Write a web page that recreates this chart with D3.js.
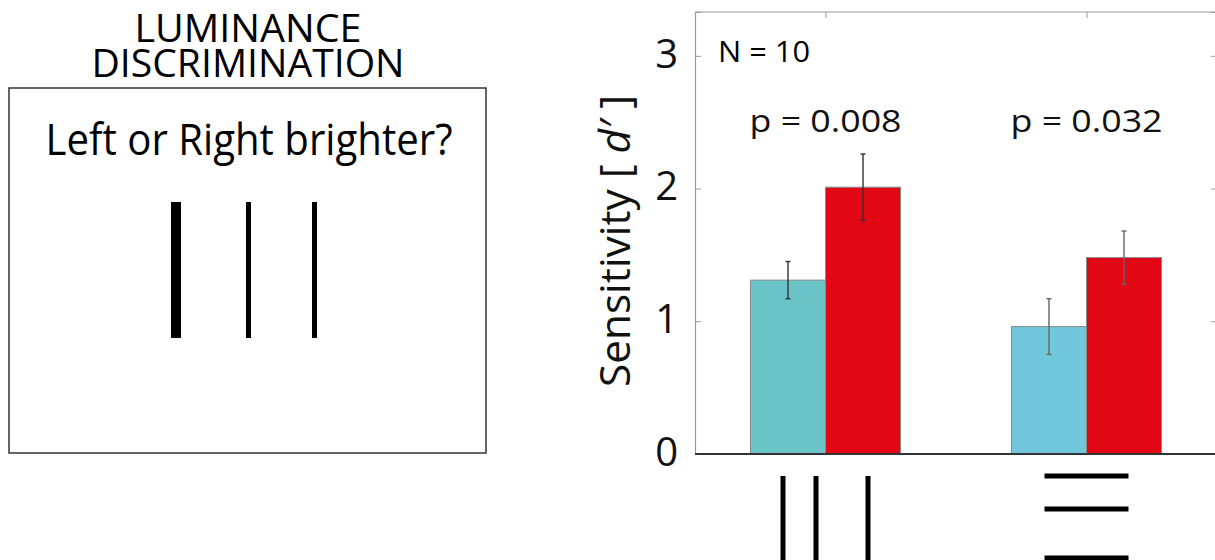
<!DOCTYPE html>
<html lang="en">
<head>
    <meta charset="UTF-8">
    <title>Luminance discrimination</title>
    <script src="https://d3js.org/d3.v7.min.js"></script>
    <style>
        body { margin: 0; background: #fff; }
        svg { display: block; font-family: "Open Sans", "Noto Sans", sans-serif; }
    </style>
</head>
<body>
<svg id="chart" width="1215" height="560"></svg>

<script type="text/javascript">

// data
var categories = ["vertical", "horizontal"];
var cyanValues = [1.31, 0.96];
var redValues  = [2.01, 1.48];
var cyanErr    = [0.14, 0.21];
var redErr     = [0.25, 0.20];
var pLabels    = ["p = 0.008", "p = 0.032"];
var yTicks     = [0, 1, 2, 3];
var cyanColors = ["#6bc4c7", "#70c7db"];
var redColor   = "#e20714";

var svg = d3.select("#chart");

// ---- left panel: task illustration
svg.append("text")
    .attr("x", 248).attr("y", 42)
    .attr("text-anchor", "middle")
    .attr("font-size", 39)
    .attr("textLength", 227).attr("lengthAdjust", "spacingAndGlyphs")
    .text("LUMINANCE");
svg.append("text")
    .attr("x", 248).attr("y", 77)
    .attr("text-anchor", "middle")
    .attr("font-size", 39)
    .attr("textLength", 313).attr("lengthAdjust", "spacingAndGlyphs")
    .text("DISCRIMINATION");

svg.append("rect")
    .attr("x", 9).attr("y", 88)
    .attr("width", 477).attr("height", 365)
    .attr("fill", "none")
    .attr("stroke", "#333")
    .attr("stroke-width", 1.5);

svg.append("text")
    .attr("x", 249).attr("y", 155)
    .attr("text-anchor", "middle")
    .attr("font-size", 44)
    .attr("textLength", 407).attr("lengthAdjust", "spacingAndGlyphs")
    .text("Left or Right brighter?");

var stimX = [176, 248.5, 314.5], stimW = [10, 5, 5];
svg.selectAll(".stim")
    .data(stimX)
    .enter()
    .append("rect")
    .attr("class", "stim")
    .attr("x", function(d, i) { return d - stimW[i] / 2; })
    .attr("y", 202)
    .attr("width", function(d, i) { return stimW[i]; })
    .attr("height", 136)
    .attr("fill", "#000");

// ---- right panel: bar chart
var axL = 695, axR = 1217, axT = 12, axB = 454;

var x = d3.scalePoint()
    .domain(categories)
    .range([axL, axR])
    .padding(0.5);
var step = x.step();
var barW = step * 0.2875;

var y = d3.scaleLinear()
    .domain([0, 3.33])
    .range([axB, axT]);

// top spine (grey), right one sits just off the page
svg.append("line")
    .attr("x1", axL).attr("x2", axR)
    .attr("y1", axT).attr("y2", axT)
    .attr("stroke", "#999").attr("stroke-width", 1.2);

var yAxis = svg.append("g")
    .attr("transform", "translate(" + axL + ",0)")
    .call(d3.axisLeft(y).tickValues(yTicks).tickSize(-6).tickPadding(17).tickFormat(d3.format("d")));
yAxis.select(".domain").attr("stroke", "#999").attr("stroke-width", 1.2);
yAxis.selectAll(".tick line").attr("stroke", "#999");
yAxis.selectAll(".tick text")
    .attr("font-size", 40)
    .attr("font-family", "Open Sans")
    .attr("fill", "#111")
    .attr("dy", "0.28em");

var yAxisR = svg.append("g")
    .attr("transform", "translate(" + axR + ",0)")
    .call(d3.axisRight(y).tickValues(yTicks).tickSize(-6).tickFormat(""));
yAxisR.select(".domain").attr("stroke", "#999");
yAxisR.selectAll(".tick line").attr("stroke", "#999");

var xTop = svg.append("g")
    .attr("transform", "translate(0," + axT + ")")
    .call(d3.axisTop(x).tickSize(-6).tickFormat(""));
xTop.select(".domain").remove();
xTop.selectAll(".tick line").attr("stroke", "#999");

// bars
var bars = [];
categories.forEach(function(c, i) {
    bars.push({cat: c, v: cyanValues[i], e: cyanErr[i], fill: cyanColors[i], off: -1});
    bars.push({cat: c, v: redValues[i], e: redErr[i], fill: redColor, off: 0});
});

svg.selectAll(".bar")
    .data(bars)
    .enter()
    .append("rect")
    .attr("class", "bar")
    .attr("x", function(d) { return x(d.cat) + d.off * barW; })
    .attr("y", function(d) { return y(d.v); })
    .attr("width", barW)
    .attr("height", function(d) { return y(0) - y(d.v); })
    .attr("fill", function(d) { return d.fill; })
    .attr("stroke", "#8a8a8a")
    .attr("stroke-width", 1);

// error bars
var eb = svg.selectAll(".err")
    .data(bars)
    .enter()
    .append("g")
    .attr("class", "err")
    .attr("stroke", function(d, i) { return i < 2 ? "#333" : "#666"; })
    .attr("stroke-width", 1.4);
eb.append("line")
    .attr("x1", function(d) { return x(d.cat) + (d.off + 0.5) * barW; })
    .attr("x2", function(d) { return x(d.cat) + (d.off + 0.5) * barW; })
    .attr("y1", function(d) { return y(d.v + d.e); })
    .attr("y2", function(d) { return y(d.v - d.e); });
eb.selectAll(".cap")
    .data(function(d) { return [d.v + d.e, d.v - d.e].map(function(v) { return {d: d, v: v}; }); })
    .enter()
    .append("line")
    .attr("x1", function(c) { return x(c.d.cat) + (c.d.off + 0.5) * barW - 2.5; })
    .attr("x2", function(c) { return x(c.d.cat) + (c.d.off + 0.5) * barW + 2.5; })
    .attr("y1", function(c) { return y(c.v); })
    .attr("y2", function(c) { return y(c.v); });

// bottom spine (dark)
svg.append("line")
    .attr("x1", axL).attr("x2", axR)
    .attr("y1", axB).attr("y2", axB)
    .attr("stroke", "#333").attr("stroke-width", 2);

// annotations
svg.append("text")
    .attr("x", 718).attr("y", 62)
    .attr("font-size", 30)
    .attr("textLength", 92).attr("lengthAdjust", "spacingAndGlyphs")
    .text("N = 10");

svg.selectAll(".pval")
    .data(pLabels)
    .enter()
    .append("text")
    .attr("class", "pval")
    .attr("x", function(d, i) { return x(categories[i]); })
    .attr("y", 132)
    .attr("text-anchor", "middle")
    .attr("font-size", 31)
    .attr("fill", "#111")
    .attr("textLength", 152).attr("lengthAdjust", "spacingAndGlyphs")
    .text(function(d) { return d; });

// y label
var yl = svg.append("text")
    .attr("transform", "translate(630,241) rotate(-90)")
    .attr("text-anchor", "middle")
    .attr("font-size", 42)
    .attr("fill", "#111")
    .attr("textLength", 292).attr("lengthAdjust", "spacingAndGlyphs");
yl.append("tspan").text("Sensitivity [ ");
yl.append("tspan").attr("font-style", "italic").text("d\u2032");
yl.append("tspan").text(" ]");

// stimulus icons under the bars
var vOff = [-42.5, -9.5, 42.5];
svg.selectAll(".vicon")
    .data(vOff)
    .enter()
    .append("rect")
    .attr("class", "vicon")
    .attr("x", function(d) { return x(categories[0]) + d - 2.5; })
    .attr("y", 476)
    .attr("width", 5)
    .attr("height", 100)
    .attr("fill", "#000");

var hY = [476, 509, 558];
svg.selectAll(".hicon")
    .data(hY)
    .enter()
    .append("rect")
    .attr("class", "hicon")
    .attr("x", x(categories[1]) - 42)
    .attr("y", function(d) { return d - 2.5; })
    .attr("width", 84)
    .attr("height", 5)
    .attr("fill", "#000");

</script>
</body>
</html>
